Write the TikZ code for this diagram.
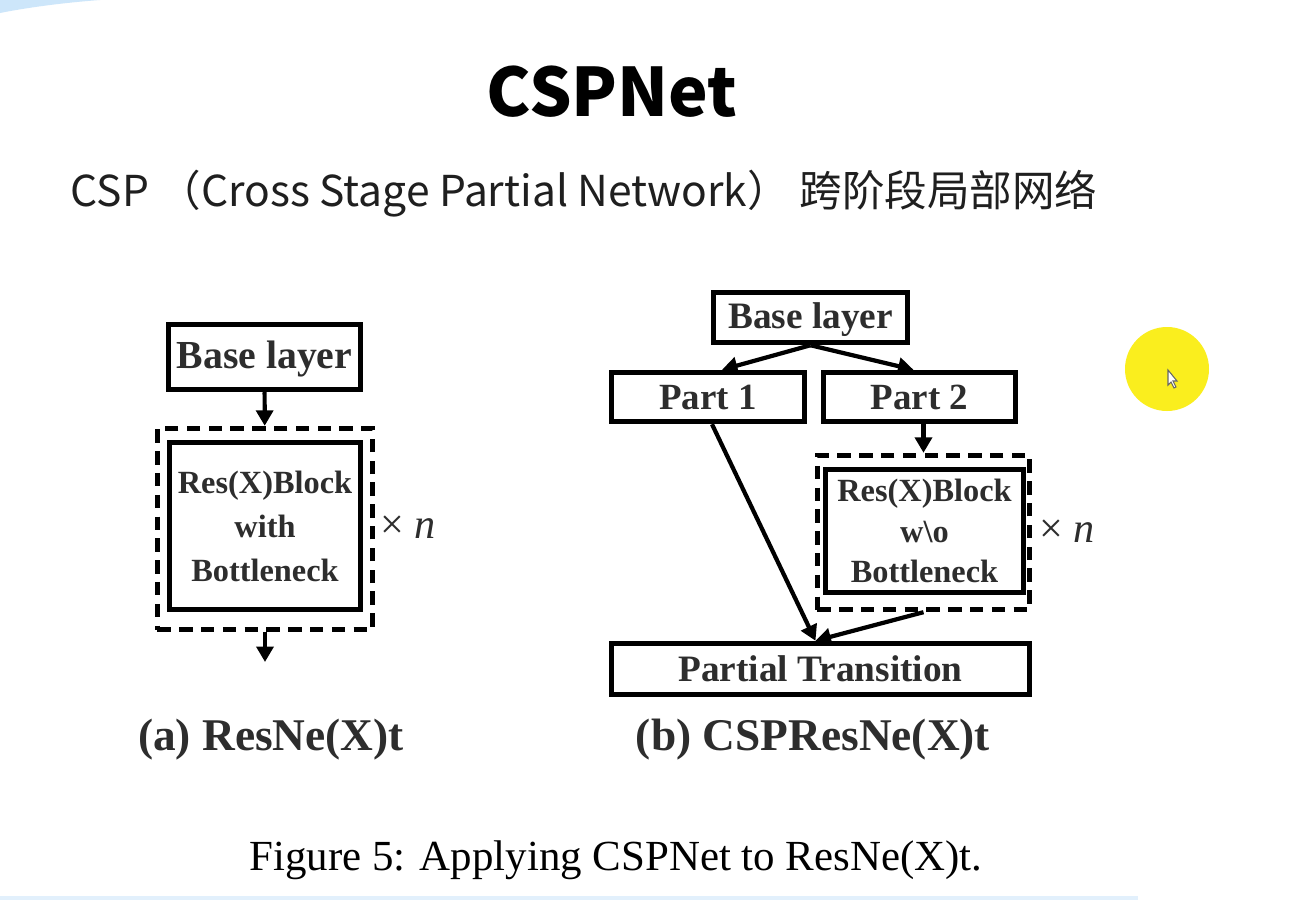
\documentclass[tikz,border=0pt]{standalone}
\usepackage{fontspec}
\setmainfont{Liberation Serif}
\newfontfamily\cjk{Noto Sans CJK SC}
\usetikzlibrary{positioning,arrows.meta,calc}
\definecolor{csptext}{RGB}{45,45,45}
\definecolor{cspsky}{RGB}{205,230,250}
\definecolor{cspline}{RGB}{226,240,252}
\definecolor{cspcursor}{RGB}{250,238,30}
\tikzset{
  box/.style={draw, line width=1.55pt, align=center, inner sep=0pt, text=csptext, font=\bfseries},
  dashbox/.style={draw, line width=1.5pt, dash pattern=on 3.8pt off 2.4pt, inner sep=0pt},
  arrow/.style={-{Triangle[length=4.4pt,width=4.8pt]}, line width=1.2pt},
  sublabel/.style={anchor=base, text=csptext, font=\bfseries\fontsize{12.9}{15}\selectfont},
  times/.style={text=csptext, font=\fontsize{12}{13}\selectfont}
}

\begin{document}
\begin{tikzpicture}[x=0.01cm, y=-0.01cm]
    \useasboundingbox[fill=white] (0,0) rectangle (1314,906);
    % slide decoration
    \fill[cspsky] (0,0) -- (100,0) .. controls (60,3) and (25,8) .. (0,13) -- cycle;
    \draw[cspline, line width=0.9pt] (0,898) -- (1138,898);
    \fill[cspcursor] (1167,369) circle (42);
    \draw[fill=white, draw=black!60, line width=0.3pt] (1168,370) -- (1168,385) -- (1171,382) -- (1174,388) -- (1176,387) -- (1173,381) -- (1177,381) -- cycle;

    % headings
    \node (title) at (612,92) {\cjk\bfseries\fontsize{19}{22}\selectfont CSPNet};
    \node[anchor=base west, inner sep=0pt, text=black!88] (subtitle) at (70,206) {\cjk\fontsize{12.1}{14}\selectfont CSP （Cross Stage Partial Network） 跨阶段局部网络};

    % (a) ResNe(X)t
    \node[box, minimum width=1.92cm, minimum height=0.65cm, text depth=0.04cm, font=\bfseries\fontsize{11.3}{13}\selectfont] (baseA) at (264.5,357) {Base layer};
    \node[dashbox, minimum width=2.15cm, minimum height=2.01cm] (dashA) at (265,529) {};
    \node[box, minimum width=1.91cm, minimum height=1.67cm, font=\bfseries\fontsize{9.2}{12.5}\selectfont] (blockA) at (265,526) {Res(X)Block\\with\\Bottleneck};
    \node[times] (timesA) at (408,527) {× \textit{n}};
    \coordinate (outA) at (265,662);
    \draw[arrow] (baseA) -- (dashA);
    \draw[arrow] (dashA) -- (outA);
    \node[sublabel] (labelA) at (271,750) {(a) ResNe(X)t};

    % (b) CSPResNe(X)t
    \node[box, minimum width=1.94cm, minimum height=0.50cm, text depth=0.04cm, font=\bfseries\fontsize{10.6}{12}\selectfont] (baseB) at (810.5,317.5) {Base layer};
    \node[box, minimum width=1.93cm, minimum height=0.49cm, font=\bfseries\fontsize{10.5}{12}\selectfont] (part1) at (708,397) {Part 1};
    \node[box, minimum width=1.92cm, minimum height=0.49cm, font=\bfseries\fontsize{10.5}{12}\selectfont] (part2) at (919.5,397) {Part 2};
    \node[dashbox, minimum width=2.12cm, minimum height=1.54cm] (dashB) at (923.5,532.5) {};
    \node[box, minimum width=1.98cm, minimum height=1.23cm, font=\bfseries\fontsize{9.2}{11.4}\selectfont] (blockB) at (924.5,531) {Res(X)Block\\w\textbackslash o\\Bottleneck};
    \node[times] (timesB) at (1067,531) {× \textit{n}};
    \node[box, minimum width=4.18cm, minimum height=0.51cm, font=\bfseries\fontsize{10.6}{12}\selectfont] (trans) at (820.5,669) {Partial Transition};
    \draw[arrow] (baseB.south) -- ([xshift=0.14cm]part1.north);
    \draw[arrow] (baseB.south) -- ([xshift=-0.06cm]part2.north);
    \draw[arrow] (part2.south -| dashB.north) -- (dashB.north);
    \draw[arrow] ([xshift=0.04cm]part1.south) -- ([xshift=-0.05cm]trans.north);
    \draw[arrow] (dashB.south) -- ([xshift=-0.05cm]trans.north);
    \node[sublabel] (labelB) at (813,750) {(b) CSPResNe(X)t};

    % caption
    \node[anchor=base, font=\fontsize{12.2}{14}\selectfont] (caption) at (616,870) {Figure 5: Applying CSPNet to ResNe(X)t.};
\end{tikzpicture}
\end{document}
